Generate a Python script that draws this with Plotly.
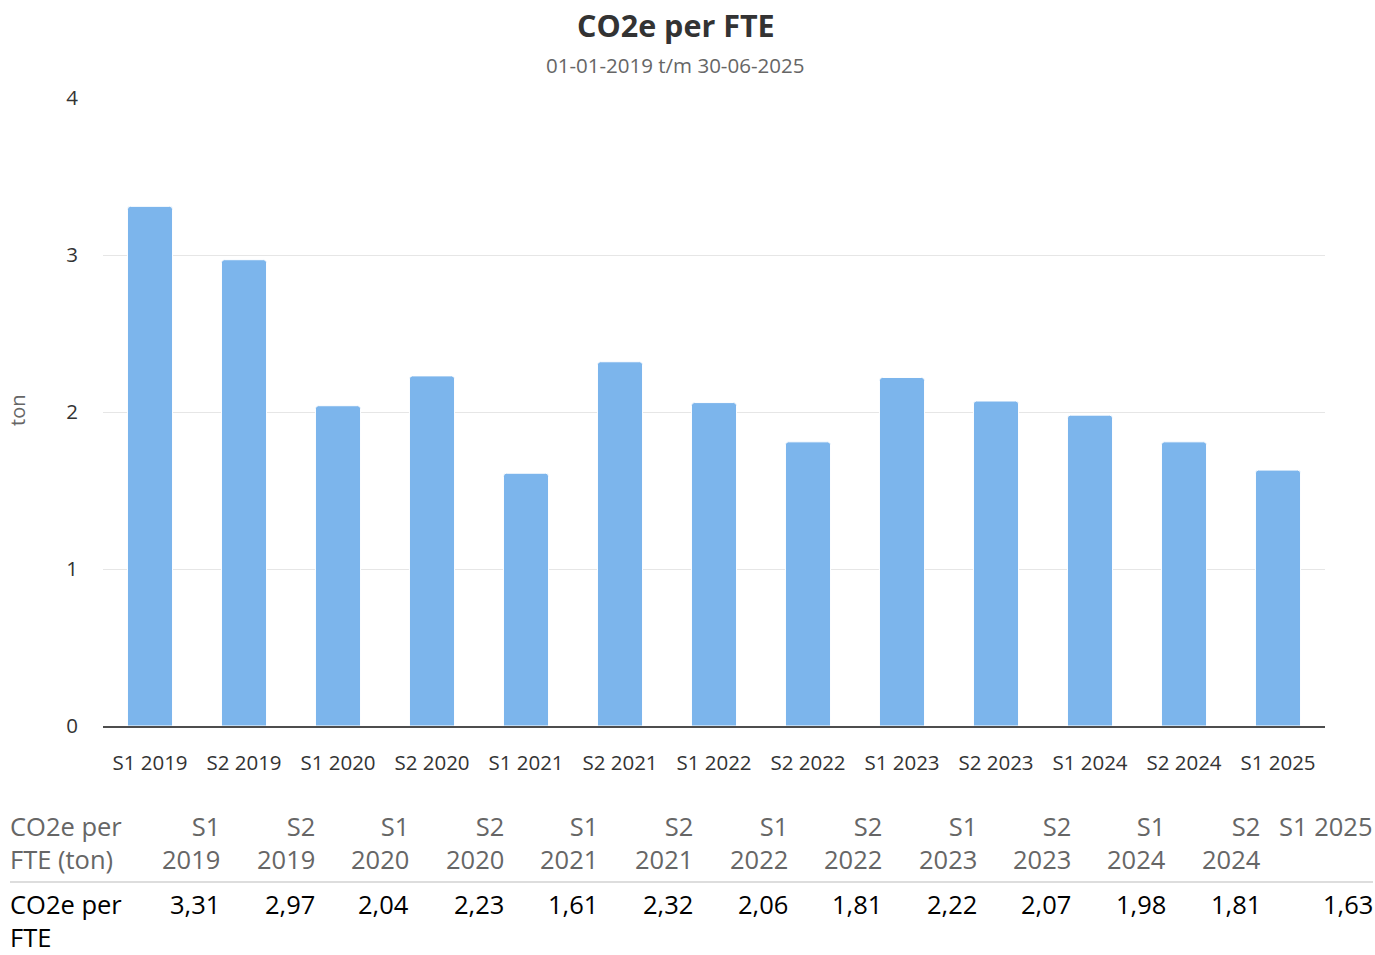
import plotly.graph_objects as go

categories = ["S1 2019", "S2 2019", "S1 2020", "S2 2020", "S1 2021", "S2 2021",
              "S1 2022", "S2 2022", "S1 2023", "S2 2023", "S1 2024", "S2 2024", "S1 2025"]
values = [3.31, 2.97, 2.04, 2.23, 1.61, 2.32, 2.06, 1.81, 2.22, 2.07, 1.98, 1.81, 1.63]
y_ticks = [0, 1, 2, 3, 4]

title_text = "CO2e per FTE"
subtitle_text = "01-01-2019 t/m 30-06-2025"
y_title = "ton"
table_head_label = "CO2e per<br>FTE (ton)"
table_row_label = "CO2e per<br>FTE"

FONT = "Open Sans"
W, H = 1375, 955
L, R, T, B = 103, 1325, 98, 726  # plot area in page pixels


def px_x(px):
    return (px - L) / (R - L)


def px_y(py):
    return (B - py) / (B - T)


fig = go.Figure()
fig.add_trace(go.Bar(
    x=categories, y=values,
    marker=dict(color="#7cb5ec", line=dict(color="#ffffff", width=1), cornerradius=3),
    hoverinfo="x+y",
))

annotations = []
annotations.append(dict(text="<b>" + title_text + "</b>", x=px_x(676), y=px_y(25),
                        xref="paper", yref="paper", showarrow=False, xanchor="center",
                        yanchor="middle", font=dict(family=FONT, size=30.5, color="#333333")))
annotations.append(dict(text=subtitle_text, x=px_x(675), y=px_y(65),
                        xref="paper", yref="paper", showarrow=False, xanchor="center",
                        yanchor="middle", font=dict(family=FONT, size=20.5, color="#666666")))
annotations.append(dict(text=y_title, x=px_x(18), y=px_y(411), textangle=-90,
                        xref="paper", yref="paper", showarrow=False, xanchor="center",
                        yanchor="middle", font=dict(family=FONT, size=20, color="#666666")))

# data table below the chart
tfont = 25.5
head_top, row_top = 807, 885
annotations.append(dict(text=table_head_label, x=px_x(8), y=px_y(head_top), xref="paper", yref="paper",
                        showarrow=False, xanchor="left", yanchor="top", align="left",
                        font=dict(family=FONT, size=tfont, color="#666666")))
annotations.append(dict(text=table_row_label, x=px_x(8), y=px_y(row_top), xref="paper", yref="paper",
                        showarrow=False, xanchor="left", yanchor="top", align="left",
                        font=dict(family=FONT, size=tfont, color="#000000")))
first_right, step, last_right = 222, 94.6, 1375
n = len(categories)
for i, (cat, val) in enumerate(zip(categories, values)):
    right = last_right if i == n - 1 else first_right + step * i
    head = cat if i == n - 1 else cat.replace(" ", "<br>")
    annotations.append(dict(text=head, x=px_x(right), y=px_y(head_top), xref="paper", yref="paper",
                            showarrow=False, xanchor="right", yanchor="top", align="right",
                            font=dict(family=FONT, size=tfont, color="#666666")))
    annotations.append(dict(text=f"{val:.2f}".replace(".", ","), x=px_x(right), y=px_y(row_top),
                            xref="paper", yref="paper", showarrow=False, xanchor="right",
                            yanchor="top", align="right",
                            font=dict(family=FONT, size=tfont, color="#000000")))

fig.add_shape(type="line", xref="paper", yref="paper", x0=px_x(10), x1=px_x(1373),
              y0=px_y(882), y1=px_y(882), line=dict(color="#dddddd", width=2))

fig.update_layout(
    width=W, height=H,
    margin=dict(l=L, r=W - R, t=T, b=H - B, pad=0),
    paper_bgcolor="#ffffff", plot_bgcolor="#ffffff",
    font=dict(family=FONT, color="#333333"),
    showlegend=False,
    bargap=0.52,
    annotations=annotations,
    xaxis=dict(
        showline=True, linecolor="#4d4d4d", linewidth=2, showgrid=False, ticks="",
        tickfont=dict(family=FONT, size=20.5, color="#333333"), ticklabelstandoff=17,
        fixedrange=True,
    ),
    yaxis=dict(
        range=[0, 4], tickvals=y_ticks, showgrid=True, gridcolor="#e6e6e6", gridwidth=1,
        zeroline=False, showline=False, ticks="",
        tickfont=dict(family=FONT, size=20.5, color="#333333"), ticklabelstandoff=24,
        fixedrange=True,
    ),
)

fig.write_html(
    "out.html",
    config={"displayModeBar": False},
    post_script="document.body.style.margin='0';document.body.style.overflow='hidden';",
)
